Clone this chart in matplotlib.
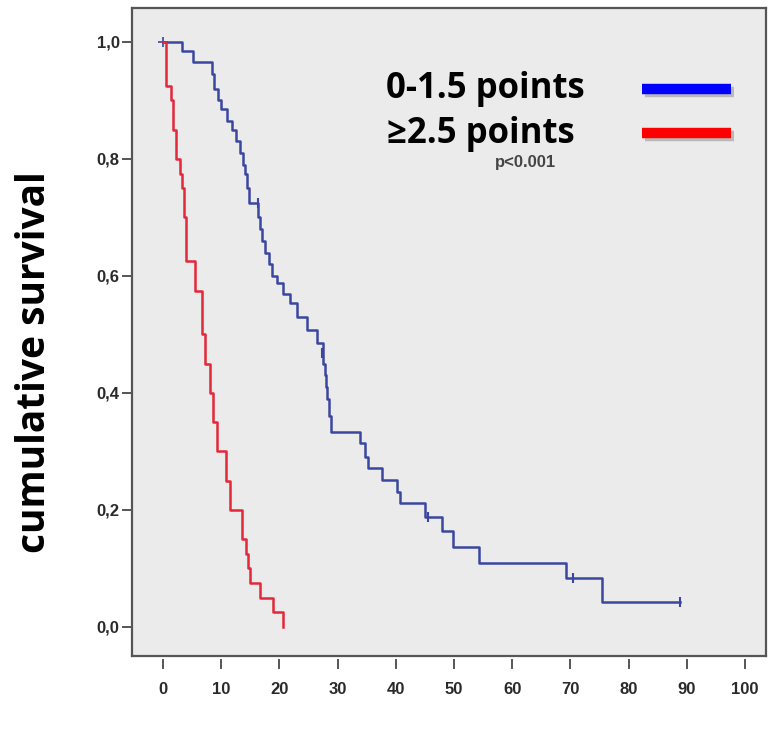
import matplotlib.pyplot as plt
import matplotlib.patheffects as pe
from matplotlib.lines import Line2D
import numpy as np

# survival steps (months, cumulative survival after the event)
low_times = [3.3, 5.1, 8.5, 8.8, 9.5, 10.0, 11.0, 11.8, 12.5, 13.2, 13.7, 14.0, 14.5, 14.8,
             16.3, 16.7, 17.0, 17.6, 18.2, 18.8, 19.5, 20.6, 21.8, 23.0, 24.7, 26.5,
             27.5, 27.8, 28.0, 28.2, 28.5, 28.8, 33.8, 34.7, 35.2, 37.6, 40.2, 40.8,
             45.0, 47.9, 49.8, 54.3, 69.2, 75.4]
low_surv = [0.985, 0.966, 0.945, 0.92, 0.90, 0.885, 0.865, 0.85, 0.83, 0.81, 0.79, 0.775, 0.75, 0.725,
            0.70, 0.68, 0.66, 0.64, 0.62, 0.60, 0.588, 0.57, 0.553, 0.53, 0.508, 0.485,
            0.45, 0.43, 0.41, 0.39, 0.36, 0.333, 0.315, 0.29, 0.272, 0.251, 0.23, 0.212,
            0.188, 0.164, 0.137, 0.109, 0.084, 0.043]
low_end = 88.8
low_censored = [(16.3, 0.725), (27.4, 0.468), (45.6, 0.188), (70.5, 0.084), (88.8, 0.043)]

high_times = [0.5, 1.3, 1.8, 2.3, 2.9, 3.3, 3.6, 4.0, 5.5, 6.7, 7.2, 8.1, 8.6, 9.3,
              10.9, 11.5, 13.5, 14.3, 14.6, 15.0, 16.7, 18.9, 20.6]
high_surv = [0.925, 0.90, 0.85, 0.80, 0.775, 0.75, 0.70, 0.625, 0.575, 0.50, 0.45, 0.40, 0.35, 0.30,
             0.25, 0.20, 0.15, 0.125, 0.10, 0.075, 0.05, 0.025, 0.0]
high_end = 20.6

x_ticks = [0, 10, 20, 30, 40, 50, 60, 70, 80, 90, 100]
y_ticks = [0.0, 0.2, 0.4, 0.6, 0.8, 1.0]
y_labels = ["0,0", "0,2", "0,4", "0,6", "0,8", "1,0"]

blue = "#3a47a0"
red = "#e3283a"

fig = plt.figure(figsize=(7.69, 7.34), dpi=100)
ax = fig.add_axes([132 / 769, 1 - 656 / 734, 634 / 769, 648 / 734])
ax.set_facecolor("#ebebeb")

def km_path(times, surv, end):
    t = np.concatenate([[0], times, [end]])
    s = np.concatenate([[1.0], surv, [surv[-1]]])
    return t, s

t, s = km_path(low_times, low_surv, low_end)
ax.step(t, s, where="post", color=blue, lw=1.8)
cx, cy = zip(*low_censored)
ax.plot(cx, cy, ls="none", marker="|", ms=7, mew=1.5, color=blue)
ax.plot([0], [1.0], ls="none", marker="+", ms=7, mew=1.2, color=blue)

t, s = km_path(high_times, high_surv, high_end)
ax.step(t, s, where="post", color=red, lw=1.8)

ax.set_xlim(-5.33, 103.6)
ax.set_ylim(-0.0496, 1.058)

for side in ["top", "right", "left", "bottom"]:
    ax.spines[side].set_color("#555555")
    ax.spines[side].set_linewidth(1.6)

ax.set_yticks(y_ticks)
ax.set_yticklabels(y_labels)
ax.set_xticks(x_ticks)
ax.tick_params(axis="y", direction="out", length=7, width=1.4, color="#555555", pad=2)
ax.tick_params(axis="x", direction="out", length=0, pad=19)
for lab in ax.get_xticklabels() + ax.get_yticklabels():
    lab.set_fontfamily("Liberation Sans")
    lab.set_fontweight("bold")
    lab.set_fontsize(12)
    lab.set_color("#2a2a2a")

# x ticks sit a little below the frame
for xt in x_ticks:
    ax.plot([xt, xt], [-0.0566, -0.0703], color="#555555", lw=1.4, clip_on=False)

fig.text(35 / 769, 1 - 362 / 734, "cumulative survival", rotation=90, ha="center", va="center",
         fontsize=28, fontweight="bold", family="Open Sans")

fig.text(485 / 769, 1 - 98 / 734, "0-1.5 points", ha="center", va="baseline",
         fontsize=25, fontweight="bold", family="Open Sans")
fig.text(481 / 769, 1 - 143 / 734, "\u22652.5 points", ha="center", va="baseline",
         fontsize=25, fontweight="bold", family="Open Sans")
fig.text(525 / 769, 1 - 167 / 734, "p<0.001", ha="center", va="baseline",
         fontsize=12, fontweight="bold", color="#444444", family="Liberation Sans")

shadow = [pe.SimpleLineShadow(offset=(2, -2), shadow_color="#888888", alpha=0.5), pe.Normal()]
for y, c in [(89, "#0000ff"), (133, "#ff0000")]:
    fig.add_artist(Line2D([642 / 769, 731 / 769], [1 - y / 734, 1 - y / 734], color=c, lw=7.5,
                          solid_capstyle="butt", path_effects=shadow))

fig.savefig("out.png", dpi=100)
